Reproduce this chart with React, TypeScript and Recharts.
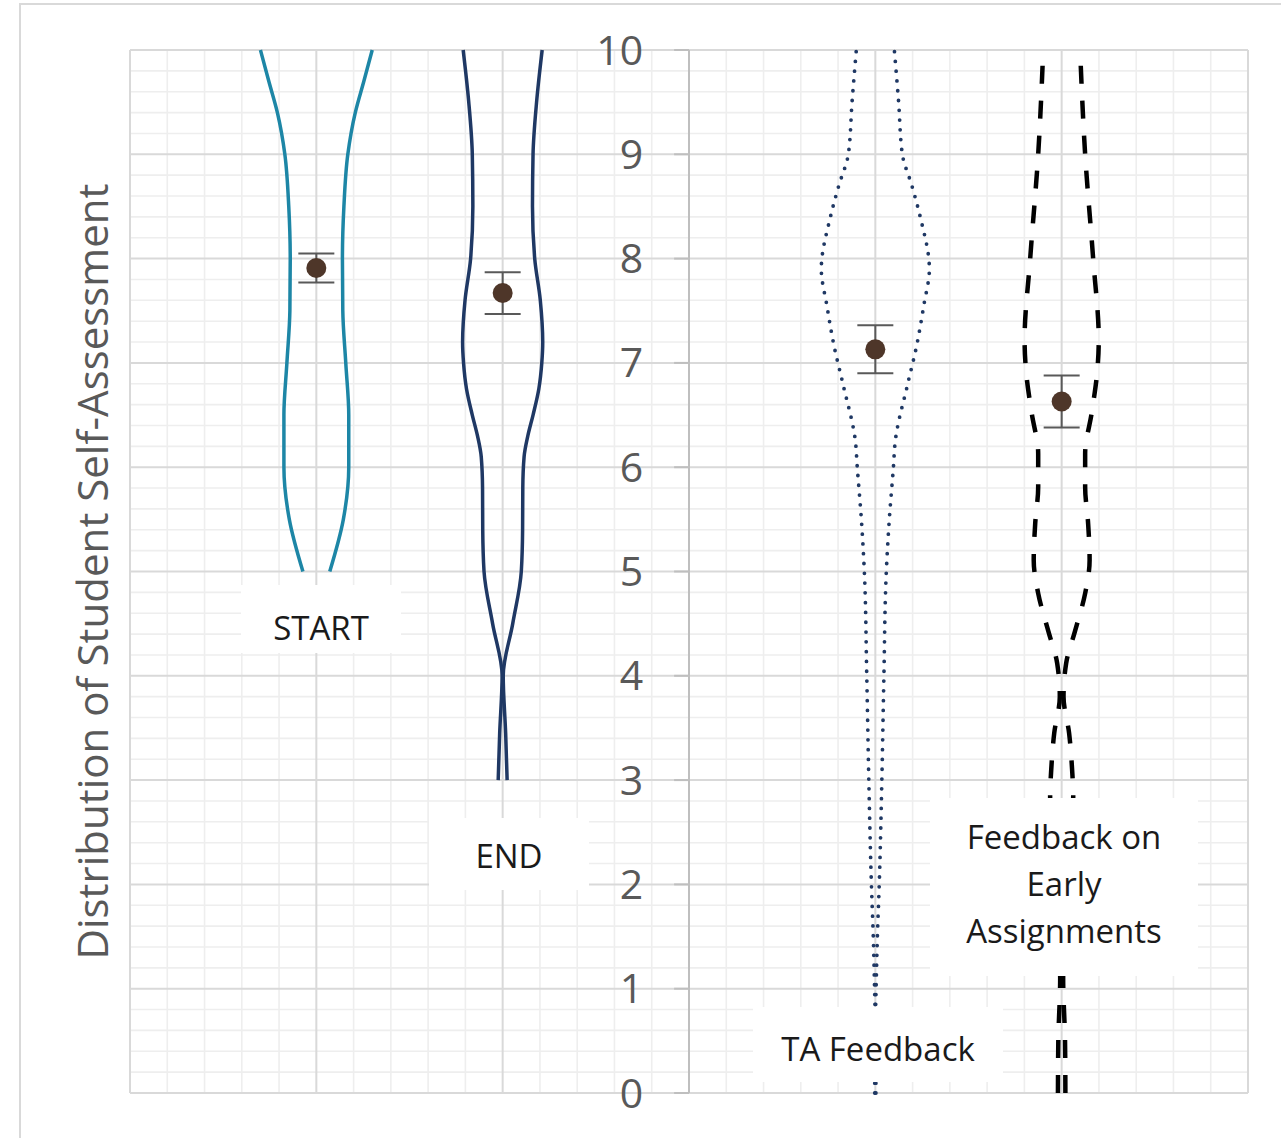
import { ScatterChart, Scatter, XAxis, YAxis, ReferenceLine, ErrorBar } from "recharts";

// violin outlines: score levels and half-widths
const levelsStart = [5, 5.5, 6, 6.5, 7, 7.5, 8, 8.5, 9, 9.4, 9.7, 10];
const halfStart = [0.072, 0.145, 0.174, 0.174, 0.158, 0.142, 0.14, 0.148, 0.169, 0.209, 0.255, 0.3];

const levelsEnd = [3, 3.45, 4, 4.5, 5, 5.4, 5.8, 6.1, 6.3, 6.5, 6.75, 7, 7.2, 7.6, 8, 8.5, 9, 9.5, 10];
const halfEnd = [0.024, 0.016, 0.003, 0.054, 0.1, 0.107, 0.108, 0.115, 0.135, 0.163, 0.194, 0.21, 0.215, 0.202, 0.172, 0.16, 0.163, 0.182, 0.212];

const levelsTA = [0.85, 1, 1.5, 2, 3, 4, 5, 5.5, 6, 6.25, 6.8, 7.15, 7.55, 7.9, 8.4, 8.7, 9, 9.5, 10];
const halfTA = [0.002, 0.004, 0.011, 0.021, 0.035, 0.046, 0.059, 0.075, 0.097, 0.107, 0.174, 0.22, 0.26, 0.29, 0.241, 0.196, 0.145, 0.125, 0.102];
const levelsTALow = [0, 0.1];
const halfTALow = [0.003, 0.003];

const levelsEarly = [0, 0.5, 1.1, 1.5, 2, 2.5, 2.85, 3.1, 3.45, 3.8, 4.12, 4.43, 4.79, 5.11, 5.46, 5.81, 6.13, 6.52, 6.9, 7.22, 8, 9, 10];
const halfEarly = [0.02, 0.018, 0.008, 0.015, 0.035, 0.055, 0.062, 0.056, 0.04, 0.01, 0.024, 0.072, 0.126, 0.15, 0.142, 0.126, 0.126, 0.161, 0.19, 0.199, 0.169, 0.126, 0.099];

// groups
const categories = ["START", "END", "TA Feedback", "Feedback on Early Assignments"];
const groupPos = [1, 2, 4, 5];
const means = [7.91, 7.67, 7.13, 6.63];
const errors = [0.14, 0.2, 0.23, 0.25];

// axis ticks
const yLabels = [0, 1, 2, 3, 4, 5, 6, 7, 8, 9, 10];
const xMajor = [0, 1, 2, 3, 4, 5, 6];
const minorY = [0.2, 0.4, 0.6, 0.8, 1.2, 1.4, 1.6, 1.8, 2.2, 2.4, 2.6, 2.8, 3.2, 3.4, 3.6, 3.8, 4.2, 4.4, 4.6, 4.8, 5.2, 5.4, 5.6, 5.8, 6.2, 6.4, 6.6, 6.8, 7.2, 7.4, 7.6, 7.8, 8.2, 8.4, 8.6, 8.8, 9.2, 9.4, 9.6, 9.8];
const minorX = [0.2, 0.4, 0.6, 0.8, 1.2, 1.4, 1.6, 1.8, 2.2, 2.4, 2.6, 2.8, 3.2, 3.4, 3.6, 3.8, 4.2, 4.4, 4.6, 4.8, 5.2, 5.4, 5.6, 5.8];

const side = (center: number, levels: number[], half: number[], sign: number) =>
  levels.map((y, i) => ({ x: center + sign * half[i], y }));

const dotted = { stroke: "#1f3864", strokeWidth: 3.8, strokeDasharray: "0 9.8", strokeLinecap: "round" };

const violins = [
  { c: groupPos[0], levels: levelsStart, half: halfStart, line: { stroke: "#1d86a6", strokeWidth: 3.5 } },
  { c: groupPos[1], levels: levelsEnd, half: halfEnd, line: { stroke: "#1f3864", strokeWidth: 3.5 } },
  { c: groupPos[2], levels: levelsTA, half: halfTA, line: dotted },
  { c: groupPos[2], levels: levelsTALow, half: halfTALow, line: dotted },
  { c: groupPos[3], levels: levelsEarly, half: halfEarly, line: { stroke: "#000000", strokeWidth: 4.5, strokeDasharray: "18 17" } },
];

const meanData = groupPos.map((x, i) => ({ x, y: means[i], err: errors[i], name: categories[i] }));

const noDot = () => <g />;
const meanDot = (p: any) => <circle cx={p.cx} cy={p.cy} r={10} fill="#4e3629" />;

const labelBoxes = [
  { lines: ["START"], left: 241, top: 585, width: 160, height: 68, shift: 8 },
  { lines: ["END"], left: 429, top: 818, width: 160, height: 72, shift: 1 },
  { lines: ["TA Feedback"], left: 753, top: 1007, width: 250, height: 75, shift: 4 },
  { lines: ["Feedback on", "Early", "Assignments"], left: 930, top: 798, width: 268, height: 178, shift: -4 },
];

const font = "'Open Sans', sans-serif";

export default function App() {
  return (
    <div style={{ position: "absolute", left: 0, top: 0, width: 1281, height: 1138, overflow: "hidden", background: "#fff" }}>
      <div style={{ position: "absolute", left: 19, top: 3, width: 1400, height: 1400, border: "2px solid #d9d9d9", boxSizing: "border-box" }} />
      <div style={{ position: "absolute", left: 0, top: 0 }}>
        <ScatterChart width={1281} height={1138} margin={{ top: 50, right: 33, bottom: 45, left: 56 }}>
          <XAxis type="number" dataKey="x" domain={[0, 6]} hide />
          <YAxis
            type="number"
            dataKey="y"
            domain={[0, 10]}
            width={74}
            tick={false}
            tickLine={false}
            axisLine={false}
            label={{ value: "Distribution of Student Self-Assessment", angle: -90, position: "center", fill: "#595959", fontSize: 42, fontFamily: font }}
          />
          {minorX.map((v) => (
            <ReferenceLine key={"mx" + v} x={v} stroke="#eeeeee" strokeWidth={1.6} />
          ))}
          {minorY.map((v) => (
            <ReferenceLine key={"my" + v} y={v} stroke="#eeeeee" strokeWidth={1.6} />
          ))}
          {xMajor.map((v) => (
            <ReferenceLine key={"vx" + v} x={v} stroke="#d9d9d9" strokeWidth={2} />
          ))}
          {yLabels.map((v) => (
            <ReferenceLine key={"hy" + v} y={v} stroke="#d9d9d9" strokeWidth={2} />
          ))}
          <ReferenceLine x={3} stroke="#bfbfbf" strokeWidth={2} />
          {yLabels.map((v) => (
            <ReferenceLine
              key={"t" + v}
              segment={[{ x: 2.92, y: v }, { x: 3, y: v }]}
              stroke="#bfbfbf"
              strokeWidth={2}
              label={{ value: String(v), position: "left", offset: 31, fill: "#595959", fontSize: 41, fontFamily: font }}
            />
          ))}
          {violins.flatMap((v, i) => [
            <Scatter
              key={"l" + i}
              data={side(v.c, v.levels, v.half, -1)}
              line={v.line}
              lineType="joint"
              lineJointType="monotoneY"
              shape={noDot}
              isAnimationActive={false}
            />,
            <Scatter
              key={"r" + i}
              data={side(v.c, v.levels, v.half, 1)}
              line={v.line}
              lineType="joint"
              lineJointType="monotoneY"
              shape={noDot}
              isAnimationActive={false}
            />,
          ])}
          <Scatter data={meanData} shape={meanDot} isAnimationActive={false}>
            <ErrorBar dataKey="err" direction="y" width={18} stroke="#595959" strokeWidth={2} />
          </Scatter>
        </ScatterChart>
      </div>
      {labelBoxes.map((b) => (
        <div
          key={b.lines.join(" ")}
          style={{
            position: "absolute",
            left: b.left,
            top: b.top,
            width: b.width,
            height: b.height,
            background: "#fff",
            display: "flex",
            flexDirection: "column",
            alignItems: "center",
            justifyContent: "center",
            boxSizing: "border-box",
            paddingTop: b.shift > 0 ? 2 * b.shift : 0,
            paddingBottom: b.shift < 0 ? -2 * b.shift : 0,
            fontFamily: font,
            fontSize: 33,
            lineHeight: "47px",
            color: "#1a1a1a",
          }}
        >
          {b.lines.map((l) => (
            <div key={l}>{l}</div>
          ))}
        </div>
      ))}
    </div>
  );
}
